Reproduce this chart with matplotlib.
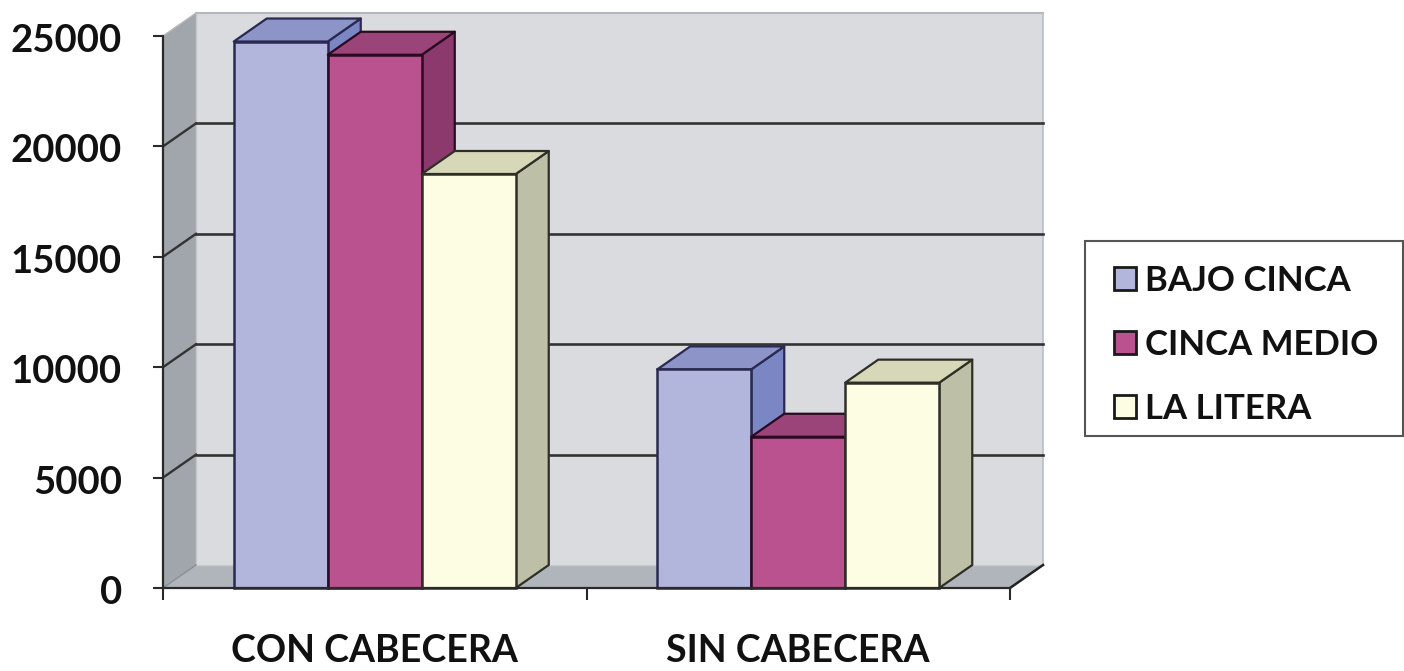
import matplotlib
matplotlib.use("Agg")
import matplotlib.pyplot as plt
from matplotlib.patches import Polygon, Patch, Rectangle
from matplotlib.transforms import ScaledTranslation

plt.rcParams['font.family'] = ['Lato', 'DejaVu Sans']
plt.rcParams['font.weight'] = 'bold'

categories = ["CON CABECERA", "SIN CABECERA"]
series_names = ["BAJO CINCA", "CINCA MEDIO", "LA LITERA"]
bajo_cinca = [24750, 9900]
cinca_medio = [24150, 6850]
la_litera = [18750, 9300]
y_ticks = [0, 5000, 10000, 15000, 20000, 25000]

front_colors = ["#b2b6dc", "#b9528e", "#fdfde4"]
side_colors = ["#7b86c4", "#8c3a6e", "#bdc0a6"]
top_colors = ["#8d94c8", "#9b4479", "#d6d8b8"]
edge_colors = ["#2a2a50", "#2a0a20", "#2f2f28"]
all_series = [bajo_cinca, cinca_medio, la_litera]

W, H = 1404, 671
fig = plt.figure(figsize=(W / 100, H / 100), dpi=100, facecolor="white")
L, R, T, B = 163, 1010, 36, 588
ax = fig.add_axes([L / W, 1 - B / H, (R - L) / W, (B - T) / H])
ax.set_xlim(0, 2)
ax.set_ylim(0, 25000)
ax.patch.set_visible(False)

dx = 33 / ((R - L) / 2)
dy = 23 / ((B - T) / 25000)
ymax = 25000
bw = 94 / ((R - L) / 2)


def poly(pts, fc, ec="none", lw=0, z=1):
    ax.add_patch(Polygon(pts, closed=True, facecolor=fc, edgecolor=ec, linewidth=lw,
                         zorder=z, clip_on=False, joinstyle="round"))


# walls
poly([(dx, dy), (2 + dx, dy), (2 + dx, ymax + dy), (dx, ymax + dy)], "#d9dbde", z=1)
poly([(0, 0), (dx, dy), (dx, ymax + dy), (0, ymax)], "#a0a6ab", z=1)
poly([(0, 0), (2, 0), (2 + dx, dy), (dx, dy)], "#b0b5bb", z=1)
ax.plot([dx, 2 + dx], [ymax + dy] * 2, color="#b4b8ba", lw=1.5, zorder=1.5, clip_on=False)
ax.plot([2 + dx, 2 + dx], [dy, ymax + dy], color="#b8c0c4", lw=1.2, zorder=1.5, clip_on=False)
ax.plot([dx, dx], [dy, ymax + dy], color="#c4c8cc", lw=1.0, zorder=1.5, clip_on=False)
ax.plot([dx, 2 + dx], [dy, dy], color="#c8cbce", lw=1.0, zorder=1.5, clip_on=False)
for v in y_ticks[1:-1]:
    ax.plot([dx, 2 + dx], [v + dy, v + dy], color="#333333", lw=1.9, zorder=2, clip_on=False)
    ax.plot([0, dx], [v, v + dy], color="#333333", lw=1.7, zorder=2, clip_on=False)
ax.plot([0, dx], [ymax, ymax + dy], color="#b4b8ba", lw=1.0, zorder=2, clip_on=False)
ax.plot([2, 2 + dx], [0, dy], color="#222222", lw=1.8, zorder=2, clip_on=False)
ax.plot([0, dx], [0, dy], color="#8a8f94", lw=1.0, zorder=2, clip_on=False)

# bars
z = 3
for g in range(len(categories)):
    for s, vals in enumerate(all_series):
        x0 = g + 0.5 + (s - 1.5) * bw
        x1 = x0 + bw
        v = vals[g]
        poly([(x1, 0), (x1 + dx, dy), (x1 + dx, v + dy), (x1, v)], side_colors[s], edge_colors[s], 1.6, z)
        poly([(x0, v), (x1, v), (x1 + dx, v + dy), (x0 + dx, v + dy)], top_colors[s], edge_colors[s], 1.6, z)
        ax.bar(x0, v, width=bw, align="edge", color=front_colors[s], edgecolor=edge_colors[s],
               linewidth=1.8, zorder=z + 0.5, clip_on=False)
        z += 1

# axes
for sp in ("top", "right"):
    ax.spines[sp].set_visible(False)
for sp in ("left", "bottom"):
    ax.spines[sp].set_color("#2a2a2a")
    ax.spines[sp].set_linewidth(1.6)
    ax.spines[sp].set_zorder(30)
ax.set_yticks(y_ticks)
ax.set_yticklabels([str(v) for v in y_ticks], fontsize=27.5, color="#111111")
ax.set_xticks([0, 1, 2])
ax.set_xticklabels([])
ax.set_xticks([0.5, 1.5], minor=True)
ax.set_xticklabels(categories, minor=True, fontsize=27, color="#111111")
ax.tick_params(axis="y", length=7.5, width=1.5, color="#2a2a2a", pad=22)
ax.tick_params(axis="x", which="major", length=8.5, width=1.5, color="#2a2a2a")
ax.tick_params(axis="x", which="minor", length=0, pad=33)
shift = ScaledTranslation(0, -2 / 100, fig.dpi_scale_trans)
for lab in ax.get_yticklabels():
    lab.set_transform(lab.get_transform() + shift)

# legend: frame runs up to the right edge of the figure
fig.add_artist(Rectangle((1085 / W, 1 - 436 / H), 318 / W, 195 / H, transform=fig.transFigure,
                         facecolor="white", edgecolor="#555555", linewidth=1.5, zorder=5))
handles = [Patch(facecolor=c, edgecolor="#1a1a1a", linewidth=2) for c in front_colors]
leg = fig.legend(handles, series_names, loc="upper left",
                 bbox_to_anchor=(1114 / W, 1 - 265 / H), bbox_transform=fig.transFigure,
                 borderaxespad=0, fontsize=25, frameon=False, handlelength=0.63, handleheight=0.63,
                 handletextpad=0.27, labelspacing=0.92, borderpad=0)
leg.set_zorder(6)
for t in leg.get_texts():
    t.set_color("#111111")

fig.savefig("out.png", dpi=100)
